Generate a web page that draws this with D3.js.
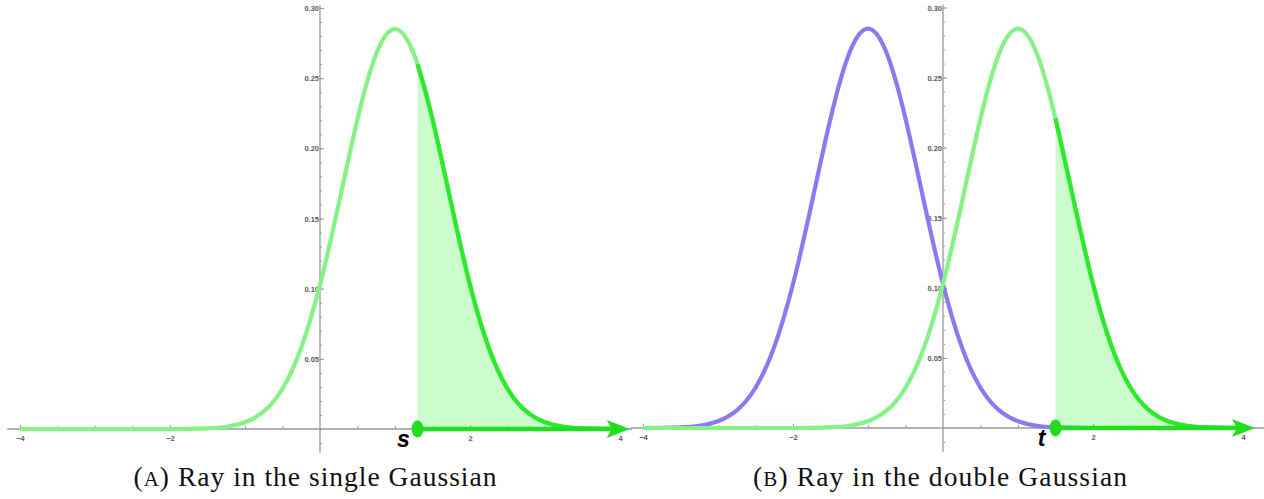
<!DOCTYPE html>
<html>
<head>
<meta charset="utf-8">
<script src="https://cdn.jsdelivr.net/npm/d3@7"></script>
<style>
  html, body { margin: 0; padding: 0; background: #fff; }
  svg { display: block; }
  .tick text { font-family: "Liberation Sans", Arial, sans-serif; font-weight: bold; fill: #5a5a5a; }
  .tick line { stroke: #999; }
</style>
</head>
<body>
<svg id="chart" width="1264" height="499"></svg>
<script>
// grid of x positions the curves were read at
const xGrid = [-4, -3.75, -3.5, -3.25, -3, -2.75, -2.5, -2.25, -2, -1.75, -1.5, -1.25, -1, -0.75, -0.5, -0.25,
  0, 0.25, 0.5, 0.75, 1, 1.25, 1.5, 1.75, 2, 2.25, 2.5, 2.75, 3, 3.25, 3.5, 3.75, 4];

// green bump (centred near +1)
const greenBump = [0, 0, 0, 0, 0, 0, 0, 0, 0, 0.0001, 0.0005, 0.0016, 0.0048, 0.0125, 0.0287, 0.0579,
  0.1027, 0.1605, 0.2208, 0.2674, 0.285, 0.2674, 0.2208, 0.1605, 0.1027, 0.0579, 0.0287, 0.0125, 0.0048, 0.0016, 0.0005, 0.0001, 0];

// purple bump (centred near -1), only in panel B
const purpleBump = [0, 0.0001, 0.0005, 0.0016, 0.0048, 0.0125, 0.0287, 0.0579, 0.1027, 0.1605, 0.2208, 0.2674, 0.285,
  0.2674, 0.2208, 0.1605, 0.1027, 0.0579, 0.0287, 0.0125, 0.0048, 0.0016, 0.0005, 0.0001, 0, 0, 0, 0, 0, 0, 0, 0, 0];

// ray start points and end of the arrow
const rayStart = { A: 1.3, B: 1.5 };
const rayStartValue = { A: 0.26, B: 0.2208 };
const rayEnd = { A: 4.13, B: 4.16 };
const rayLabel = { A: "s", B: "t" };

const xMajorTicks = [-4, -2, 2, 4];
const xMinorTicks = [-4, -3.5, -3, -2.5, -2, -1.5, -1, -0.5, 0.5, 1, 1.5, 2, 2.5, 3, 3.5, 4];
const yMajorTicks = [0.05, 0.10, 0.15, 0.20, 0.25, 0.30];
const yMinorTicks = d3.range(-1, 31).map(i => i / 100);

const captions = { A: ["(", "A", ") Ray in the single Gaussian"], B: ["(", "B", ") Ray in the double Gaussian"] };
const captionWidth = { A: 363, B: 374 };
const captionCentre = { A: 315, B: 940 };

const svg = d3.select("#chart");
svg.append("rect").attr("width", 1264).attr("height", 499).attr("fill", "#fff");

const lightGreen = "#86f286";
const darkGreen = "#2ee82e";
const shadeGreen = "#ccfccc";
const purple = "#8a7af2";

function drawPanel(key, opts) {
  const x = d3.scaleLinear().domain([-4, 4]).range(opts.xRange);
  const y = d3.scaleLinear().domain([0, 0.3]).range(opts.yRange);
  const g = svg.append("g");

  const pts = arr => xGrid.map((v, i) => [v, arr[i]]);
  const line = d3.line().x(d => x(d[0])).y(d => y(d[1])).curve(d3.curveNatural);
  const area = d3.area().x(d => x(d[0])).y0(y(0)).y1(d => y(d[1])).curve(d3.curveNatural);

  // tail of the green curve past the ray start
  const s = rayStart[key];
  const tail = [[s, rayStartValue[key]]].concat(pts(greenBump).filter(d => d[0] > s + 0.05));

  // shaded tail area
  g.append("path").attr("d", area(tail)).attr("fill", shadeGreen);

  // axes lines
  g.append("line")
    .attr("x1", x(opts.axisFrom)).attr("x2", x(opts.axisTo))
    .attr("y1", y(0)).attr("y2", y(0))
    .attr("stroke", "#999").attr("stroke-width", 1.3);
  g.append("line")
    .attr("x1", x(0)).attr("x2", x(0))
    .attr("y1", y(0.302)).attr("y2", y(-0.017))
    .attr("stroke", "#999").attr("stroke-width", 1.3);

  // x ticks
  const xMinor = d3.axisBottom(x).tickValues(xMinorTicks).tickSize(-3).tickFormat("");
  g.append("g").attr("transform", `translate(0,${y(0)})`).call(xMinor).call(a => a.select(".domain").remove());
  const xMajor = d3.axisBottom(x).tickValues(xMajorTicks).tickSize(-4).tickPadding(7)
    .tickFormat(d3.format("d"));
  g.append("g").attr("transform", `translate(0,${y(0)})`).call(xMajor)
    .call(a => a.select(".domain").remove())
    .call(a => a.selectAll("text").attr("font-size", 7.5));

  // y ticks
  const yMinor = d3.axisLeft(y).tickValues(yMinorTicks).tickSize(-2).tickFormat("");
  g.append("g").attr("transform", `translate(${x(0)},0)`).call(yMinor).call(a => a.select(".domain").remove());
  const yMajor = d3.axisLeft(y).tickValues(yMajorTicks).tickSize(-4).tickPadding(1)
    .tickFormat(d3.format(".2f"));
  g.append("g").attr("transform", `translate(${x(0)},0)`).call(yMajor)
    .call(a => a.select(".domain").remove())
    .call(a => a.selectAll("text").attr("font-size", 7.5).attr("dy", "0.35em"));

  // curves
  if (opts.purple) {
    g.append("path").attr("d", line(pts(purpleBump)))
      .attr("fill", "none").attr("stroke", purple).attr("stroke-width", 4.2);
  }
  g.append("path").attr("d", line(pts(greenBump)))
    .attr("fill", "none").attr("stroke", lightGreen).attr("stroke-width", 4.2);
  g.append("path").attr("d", line(tail))
    .attr("fill", "none").attr("stroke", darkGreen).attr("stroke-width", 4.2);

  // ray along the axis
  const x0 = x(s), x1 = x(rayEnd[key]), yy = y(0);
  g.append("line")
    .attr("x1", x0).attr("x2", x1 - 16)
    .attr("y1", yy).attr("y2", yy)
    .attr("stroke", "#22dd22").attr("stroke-width", 4.5);
  g.append("path")
    .attr("d", `M${x1},${yy} L${x1 - 23},${yy - 9} L${x1 - 18},${yy} L${x1 - 23},${yy + 9} Z`)
    .attr("fill", "#22dd22");
  g.append("ellipse")
    .attr("cx", x0).attr("cy", yy).attr("rx", 6).attr("ry", 8.5)
    .attr("fill", "#22dd22");

  // ray label
  g.append("text")
    .attr("x", x0 - 14).attr("y", yy + 18)
    .attr("text-anchor", "middle")
    .attr("font-family", "'Liberation Sans', Arial, sans-serif")
    .attr("font-weight", "bold").attr("font-style", "italic")
    .attr("font-size", 23)
    .text(rayLabel[key]);

  // caption
  const cap = g.append("text")
    .attr("x", captionCentre[key] - captionWidth[key] / 2).attr("y", 486)
    .attr("textLength", captionWidth[key]).attr("lengthAdjust", "spacing")
    .attr("font-family", "'Liberation Serif', 'DejaVu Serif', serif")
    .attr("font-size", 27.5)
    .attr("fill", "#111");
  cap.append("tspan").text(captions[key][0]);
  cap.append("tspan").attr("font-size", 21).text(captions[key][1]);
  cap.append("tspan").text(captions[key][2]);
}

drawPanel("A", { xRange: [20, 620], yRange: [429, 8], axisFrom: -4.17, axisTo: 4.16, purple: false });
drawPanel("B", { xRange: [643, 1243], yRange: [428, 7.5], axisFrom: -4.16, axisTo: 4.28, purple: true });
</script>
</body>
</html>
